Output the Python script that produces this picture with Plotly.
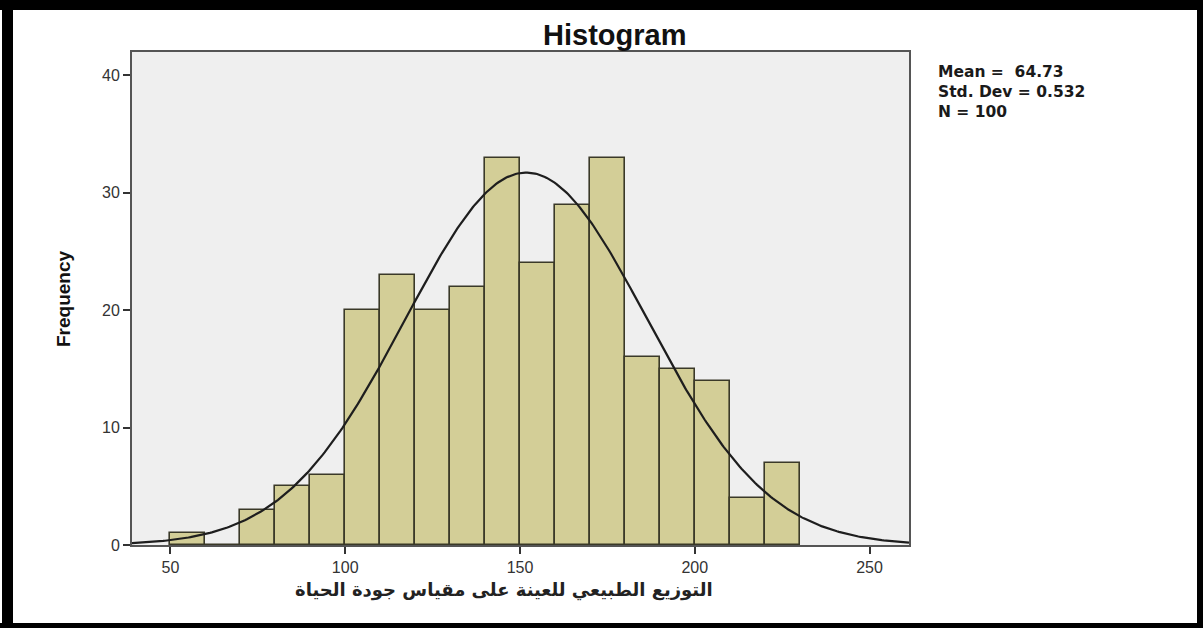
import numpy as np
import plotly.graph_objects as go

# ---- data ----
bin_left = [50, 60, 70, 80, 90, 100, 110, 120, 130, 140, 150, 160, 170, 180, 190, 200, 210, 220]
counts   = [1, 0, 3, 5, 6, 20, 23, 20, 22, 33, 24, 29, 33, 16, 15, 14, 4, 7]
bin_width = 10
x_ticks = [50, 100, 150, 200, 250]
y_ticks = [0, 10, 20, 30, 40]
stats_lines = ["Mean =  64.73", "Std. Dev = 0.532", "N = 100"]
title_text = "Histogram"
x_title = "التوزيع الطبيعي للعينة على مقياس جودة الحياة"
y_title = "Frequency"

# ---- layout geometry (pixels) ----
W, H = 1203, 628
L, R, T, B = 132, 294, 52, 83
pw, ph = W - L - R, H - T - B

def px(xp):
    return (xp - L) / pw

def py(yp):
    return (H - B - yp) / ph

mids = [b + bin_width / 2 for b in bin_left]
cnt = np.array(counts, dtype=float)
mid = np.array(mids)
n_tot = cnt.sum()
mu = (cnt * mid).sum() / n_tot
sd = np.sqrt((cnt * (mid - mu) ** 2).sum() / (n_tot - 1))
xr = [39.0, 261.3]
xc = np.linspace(xr[0], xr[1], 400)
yc = n_tot * bin_width / (sd * np.sqrt(2 * np.pi)) * np.exp(-0.5 * ((xc - mu) / sd) ** 2)

fig = go.Figure()
fig.add_trace(go.Bar(
    x=mids, y=counts, width=bin_width,
    marker=dict(color="#D3CE97", line=dict(color="#3A3928", width=1.6)),
    hoverinfo="x+y", showlegend=False,
))
fig.add_trace(go.Scatter(
    x=xc, y=yc, mode="lines",
    line=dict(color="#1E1E1E", width=2.2),
    showlegend=False, hoverinfo="skip",
))

axis_common = dict(
    showgrid=False, zeroline=False, showline=True, linecolor="#555555", linewidth=2,
    mirror=True, ticks="outside", ticklen=7, tickwidth=1.5, tickcolor="#333333",
    tickfont=dict(family="Liberation Sans, Arial", size=16, color="#333333"),
)

fig.update_layout(
    width=W, height=H,
    margin=dict(l=L, r=R, t=T, b=B),
    paper_bgcolor="white", plot_bgcolor="#EFEFEF",
    xaxis=dict(range=xr, tickvals=x_ticks, **axis_common),
    yaxis=dict(range=[0, 42], tickvals=y_ticks, **axis_common),
    bargap=0,
)

annotations = [
    dict(text="<b>%s</b>" % title_text, x=px(614), y=py(35), xref="paper", yref="paper",
         showarrow=False, font=dict(family="Liberation Sans, Arial", size=29, color="#111111"),
         xanchor="center", yanchor="middle"),
    dict(text="<b>%s</b>" % y_title, x=px(63), y=py(299), xref="paper", yref="paper",
         showarrow=False, textangle=-90,
         font=dict(family="Liberation Sans Narrow, Liberation Sans, Arial", size=19, color="#111111"),
         xanchor="center", yanchor="middle"),
    dict(text="<b>%s</b>" % x_title, x=px(504), y=py(590), xref="paper", yref="paper",
         showarrow=False, font=dict(family="DejaVu Sans", size=18, color="#222222"),
         xanchor="center", yanchor="middle"),
    dict(text="<br>".join("<b>%s</b>" % s for s in stats_lines),
         x=px(936), y=py(61), xref="paper", yref="paper",
         showarrow=False, align="left",
         font=dict(family="DejaVu Sans", size=15.5, color="#1A1A1A"),
         xanchor="left", yanchor="top"),
]
fig.update_layout(annotations=annotations)

# outer black frame of the picture
frame = [
    (2, 0, 13, H),      # left
    (0, 0, W, 10),      # top
    (1197, 0, W, H),    # right
    (0, 623, W, H),     # bottom
]
shapes = []
for x0, y0, x1, y1 in frame:
    shapes.append(dict(type="rect", xref="paper", yref="paper",
                       x0=px(x0), x1=px(x1), y0=py(y1), y1=py(y0),
                       fillcolor="black", line=dict(width=0), layer="above"))
fig.update_layout(shapes=shapes)

fig.write_html("out.html", config={"displayModeBar": False},
               post_script="document.body.style.margin='0px';")
